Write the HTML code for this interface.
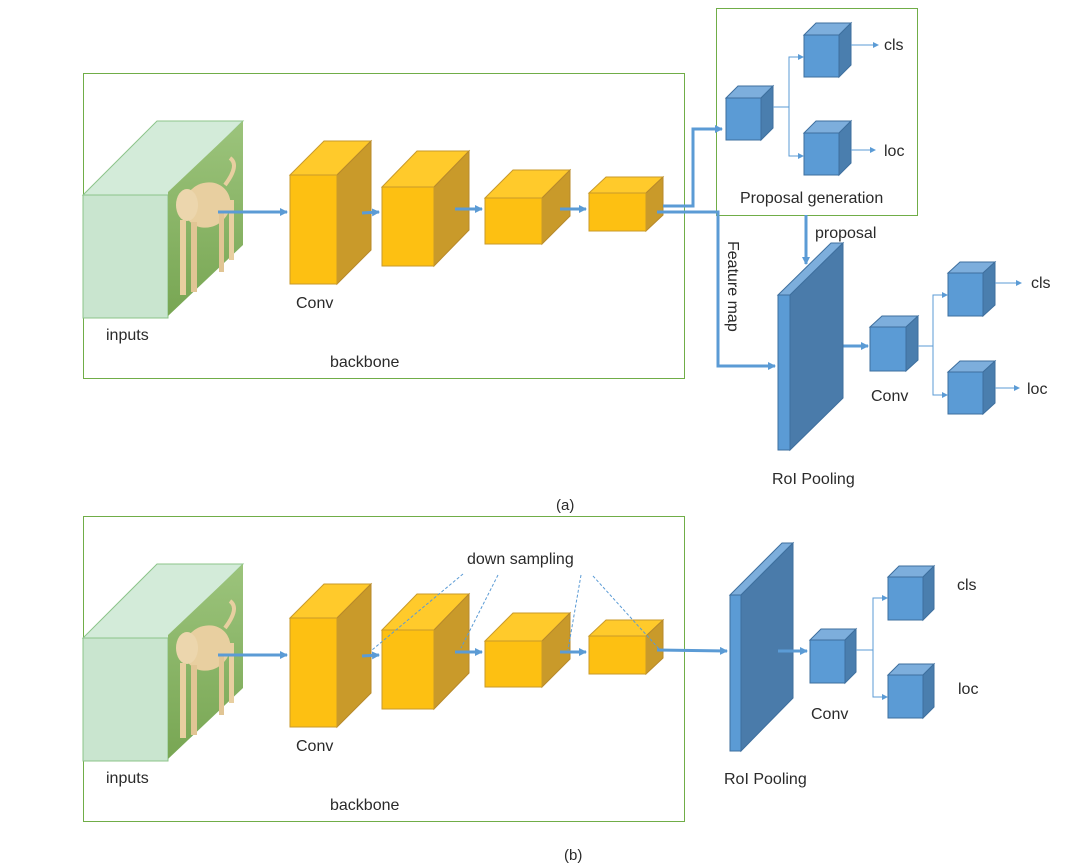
<!DOCTYPE html>
<html><head><meta charset="utf-8"><style>
html,body{margin:0;padding:0;background:#fff;width:1085px;height:867px;overflow:hidden}
svg text{font-family:"Liberation Sans",sans-serif;fill:#2a2a2a}
</style></head><body>
<svg width="1085" height="867" viewBox="0 0 1085 867" xmlns="http://www.w3.org/2000/svg">
<defs>
<marker id="ah" markerWidth="6" markerHeight="6" refX="5" refY="3" orient="auto" markerUnits="strokeWidth"><path d="M0,0 L6,3 L0,6 z" fill="#5B9BD5"/></marker>
<marker id="ah2" markerWidth="8" markerHeight="8" refX="7" refY="4" orient="auto" markerUnits="userSpaceOnUse"><path d="M0,0 L8,4 L0,8 z" fill="#5B9BD5"/></marker>
<linearGradient id="grass" x1="0" y1="0" x2="0" y2="1"><stop offset="0" stop-color="#9cc47c"/><stop offset="1" stop-color="#78a653"/></linearGradient>
<g id="bb">
  <rect x="83.5" y="73.5" width="601" height="305" fill="none" stroke="#70AD47" stroke-width="1"/>
  <polygon points="83,195 157,121 243,121 168,195" fill="#D3EBD9" stroke="#8CC48A" stroke-width="1"/>
  <rect x="83" y="195" width="85" height="123" fill="#C9E5CF" stroke="#8CC48A" stroke-width="1"/>
  <polygon points="168,192 243,121 243,245 168,316" fill="url(#grass)"/>
  <ellipse cx="207" cy="205" rx="24" ry="22" fill="#e8cfa0" transform="rotate(-35 207 205)"/>
  <ellipse cx="187" cy="205" rx="11" ry="16" fill="#ecd6ad"/>
  <rect x="180" y="220" width="6" height="75" fill="#e8cfa0"/>
  <rect x="191" y="222" width="6" height="70" fill="#e1c594"/>
  <rect x="219" y="212" width="5" height="60" fill="#e1c594"/>
  <rect x="229" y="200" width="5" height="60" fill="#e8cfa0"/>
  <path d="M225,185 Q240,165 230,158" stroke="#e8cfa0" stroke-width="4" fill="none"/>
  <polygon points="290,175 324,141 371,141 337,175" fill="#FFCA2B" stroke="#C99A2A"/>
  <polygon points="337,175 371,141 371,250 337,284" fill="#C99A2A" stroke="#B8892A"/>
  <rect x="290" y="175" width="47" height="109" fill="#FDC012" stroke="#C99A2A"/>
  <polygon points="382,187 417,151 469,151 434,187" fill="#FFCA2B" stroke="#C99A2A"/>
  <polygon points="434,187 469,151 469,230 434,266" fill="#C99A2A" stroke="#B8892A"/>
  <rect x="382" y="187" width="52" height="79" fill="#FDC012" stroke="#C99A2A"/>
  <polygon points="485,198 513,170 570,170 542,198" fill="#FFCA2B" stroke="#C99A2A"/>
  <polygon points="542,198 570,170 570,216 542,244" fill="#C99A2A" stroke="#B8892A"/>
  <rect x="485" y="198" width="57" height="46" fill="#FDC012" stroke="#C99A2A"/>
  <polygon points="589,193 606,177 663,177 646,193" fill="#FFCA2B" stroke="#C99A2A"/>
  <polygon points="646,193 663,177 663,215 646,231" fill="#C99A2A" stroke="#B8892A"/>
  <rect x="589" y="193" width="57" height="38" fill="#FDC012" stroke="#C99A2A"/>
  <g stroke="#5B9BD5" stroke-width="3" fill="none">
    <line x1="218" y1="212" x2="287" y2="212" marker-end="url(#ah2)"/>
    <line x1="362" y1="213" x2="379" y2="212" marker-end="url(#ah2)"/>
    <line x1="455" y1="209" x2="482" y2="209" marker-end="url(#ah2)"/>
    <line x1="560" y1="209" x2="586" y2="209" marker-end="url(#ah2)"/>
  </g>
  <text x="296" y="308" font-size="16">Conv</text>
  <text x="106" y="340" font-size="16">inputs</text>
  <text x="330" y="367" font-size="16">backbone</text>
</g>
</defs>

<use href="#bb"/>
<use href="#bb" transform="translate(0,443)"/>

<rect x="716.5" y="8.5" width="201" height="207" fill="none" stroke="#70AD47"/>
<g stroke="#3E6F9E" stroke-width="1">
<polygon points="726,98 738,86 773,86 761,98" fill="#7DAEDC"/>
<polygon points="761,98 773,86 773,128 761,140" fill="#4A7EAE"/>
<rect x="726" y="98" width="35" height="42" fill="#5B9BD5"/>
<polygon points="804,35 816,23 851,23 839,35" fill="#7DAEDC"/>
<polygon points="839,35 851,23 851,65 839,77" fill="#4A7EAE"/>
<rect x="804" y="35" width="35" height="42" fill="#5B9BD5"/>
<polygon points="804,133 816,121 851,121 839,133" fill="#7DAEDC"/>
<polygon points="839,133 851,121 851,163 839,175" fill="#4A7EAE"/>
<rect x="804" y="133" width="35" height="42" fill="#5B9BD5"/>
</g>
<g stroke="#5B9BD5" stroke-width="1" fill="none">
<polyline points="773,107 789,107 789,57 803,57" marker-end="url(#ah)"/>
<polyline points="789,107 789,156 803,156" marker-end="url(#ah)"/>
<line x1="851" y1="45" x2="878" y2="45" marker-end="url(#ah)"/>
<line x1="851" y1="150" x2="875" y2="150" marker-end="url(#ah)"/>
</g>
<text x="884" y="50" font-size="16">cls</text>
<text x="884" y="156" font-size="16">loc</text>
<text x="740" y="203" font-size="16">Proposal generation</text>

<g stroke="#5B9BD5" stroke-width="3" fill="none">
<polyline points="663,206 693,206 693,129 722,129" marker-end="url(#ah2)"/>
<polyline points="657,212 718,212 718,366 775,366" marker-end="url(#ah2)"/>
<line x1="806" y1="215" x2="806" y2="264" marker-end="url(#ah2)"/>
<line x1="843" y1="346" x2="868" y2="346" marker-end="url(#ah2)"/>
</g>
<text x="815" y="238" font-size="16">proposal</text>
<text x="0" y="0" font-size="16" transform="translate(728,241) rotate(90)">Feature map</text>

<g stroke="#3E6F9E" stroke-width="1">
<polygon points="778,295 831,243 843,243 790,295" fill="#7DAEDC"/>
<polygon points="790,295 843,243 843,398 790,450" fill="#4A7BAA"/>
<rect x="778" y="295" width="12" height="155" fill="#5B9BD5"/>
<polygon points="870,327 882,316 918,316 906,327" fill="#7DAEDC"/>
<polygon points="906,327 918,316 918,360 906,371" fill="#4A7EAE"/>
<rect x="870" y="327" width="36" height="44" fill="#5B9BD5"/>
<polygon points="948,273 960,262 995,262 983,273" fill="#7DAEDC"/>
<polygon points="983,273 995,262 995,305 983,316" fill="#4A7EAE"/>
<rect x="948" y="273" width="35" height="43" fill="#5B9BD5"/>
<polygon points="948,372 960,361 995,361 983,372" fill="#7DAEDC"/>
<polygon points="983,372 995,361 995,403 983,414" fill="#4A7EAE"/>
<rect x="948" y="372" width="35" height="42" fill="#5B9BD5"/>
</g>
<g stroke="#5B9BD5" stroke-width="1" fill="none">
<polyline points="918,346 933,346 933,295 947,295" marker-end="url(#ah)"/>
<polyline points="933,346 933,395 947,395" marker-end="url(#ah)"/>
<line x1="995" y1="283" x2="1021" y2="283" marker-end="url(#ah)"/>
<line x1="995" y1="388" x2="1019" y2="388" marker-end="url(#ah)"/>
</g>
<text x="1031" y="288" font-size="16">cls</text>
<text x="1027" y="394" font-size="16">loc</text>
<text x="871" y="401" font-size="16">Conv</text>
<text x="772" y="484" font-size="16">RoI Pooling</text>
<text x="556" y="510" font-size="15">(a)</text>

<text x="467" y="564" font-size="16">down sampling</text>
<g stroke="#5B9BD5" stroke-width="1" stroke-dasharray="3,2" fill="none">
<line x1="463" y1="574" x2="372" y2="650"/>
<line x1="498" y1="575" x2="461" y2="648"/>
<line x1="581" y1="575" x2="568" y2="650"/>
<line x1="593" y1="576" x2="660" y2="650"/>
</g>
<g stroke="#3E6F9E" stroke-width="1">
<polygon points="730,595 782,543 793,543 741,595" fill="#7DAEDC"/>
<polygon points="741,595 793,543 793,698 741,751" fill="#4A7BAA"/>
<rect x="730" y="595" width="11" height="156" fill="#5B9BD5"/>
<polygon points="810,640 821,629 856,629 845,640" fill="#7DAEDC"/>
<polygon points="845,640 856,629 856,672 845,683" fill="#4A7EAE"/>
<rect x="810" y="640" width="35" height="43" fill="#5B9BD5"/>
<polygon points="888,577 899,566 934,566 923,577" fill="#7DAEDC"/>
<polygon points="923,577 934,566 934,609 923,620" fill="#4A7EAE"/>
<rect x="888" y="577" width="35" height="43" fill="#5B9BD5"/>
<polygon points="888,675 899,664 934,664 923,675" fill="#7DAEDC"/>
<polygon points="923,675 934,664 934,707 923,718" fill="#4A7EAE"/>
<rect x="888" y="675" width="35" height="43" fill="#5B9BD5"/>
</g>
<g stroke="#5B9BD5" stroke-width="3" fill="none">
<line x1="657" y1="650" x2="727" y2="651" marker-end="url(#ah2)"/>
<line x1="778" y1="651" x2="807" y2="651" marker-end="url(#ah2)"/>
</g>
<g stroke="#5B9BD5" stroke-width="1" fill="none">
<polyline points="856,650 873,650 873,598 887,598" marker-end="url(#ah)"/>
<polyline points="873,650 873,697 887,697" marker-end="url(#ah)"/>
</g>
<text x="957" y="590" font-size="16">cls</text>
<text x="958" y="694" font-size="16">loc</text>
<text x="811" y="719" font-size="16">Conv</text>
<text x="724" y="784" font-size="16">RoI Pooling</text>
<text x="564" y="860" font-size="15">(b)</text>
</svg>
</body></html>
